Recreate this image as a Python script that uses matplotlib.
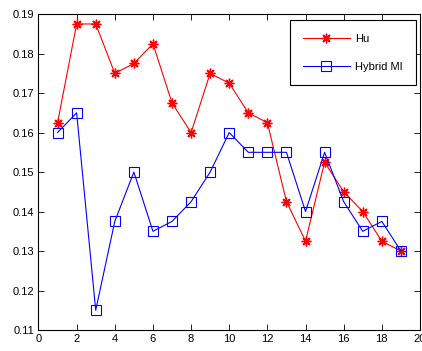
import matplotlib
matplotlib.use("Agg")
import matplotlib.pyplot as plt

x = list(range(1, 20))
hu = [0.1625, 0.1875, 0.1875, 0.175, 0.1775, 0.1825, 0.1675, 0.16, 0.175, 0.1725,
      0.165, 0.1625, 0.1425, 0.1325, 0.1525, 0.145, 0.14, 0.1325, 0.13]
hybrid = [0.16, 0.165, 0.115, 0.1375, 0.15, 0.135, 0.1375, 0.1425, 0.15, 0.16,
          0.155, 0.155, 0.155, 0.14, 0.155, 0.1425, 0.135, 0.1375, 0.13]
xticks = list(range(0, 21, 2))
yticks = [0.11, 0.12, 0.13, 0.14, 0.15, 0.16, 0.17, 0.18, 0.19]

plt.rcParams['font.family'] = ['Liberation Sans', 'DejaVu Sans']
fig = plt.figure(figsize=(4.22, 3.51), dpi=100)
ax = fig.add_axes([0.0912, 0.0598, 0.904, 0.900])
ax.plot(x, hu, color='#ff0000', marker=(8, 2, 0), markersize=7, markeredgewidth=1.0,
        linewidth=0.8, label='Hu')
ax.plot(x, hybrid, color='#0000ff', marker='s', markersize=7, markerfacecolor='none',
        markeredgewidth=0.8, linewidth=0.8, label='Hybrid MI')
ax.set_xlim(0, 20)
ax.set_ylim(0.11, 0.19)
ax.set_xticks(xticks)
ax.set_yticks(yticks)
ax.set_xticklabels([str(t) for t in xticks])
ax.set_yticklabels([f"{t:.2f}" for t in yticks])
ax.tick_params(direction='in', top=True, right=True, labelsize=8, length=4, width=0.6, pad=3)
for s in ax.spines.values():
    s.set_linewidth(0.8)
leg = ax.legend(loc='upper right', fontsize=8, fancybox=False, framealpha=1,
                edgecolor='black', borderpad=1.2, labelspacing=1.6, handlelength=4.2,
                handletextpad=0.5, borderaxespad=0, bbox_to_anchor=(0.99, 0.98))
leg.get_frame().set_linewidth(0.8)
fig.savefig('out.png', dpi=100)
